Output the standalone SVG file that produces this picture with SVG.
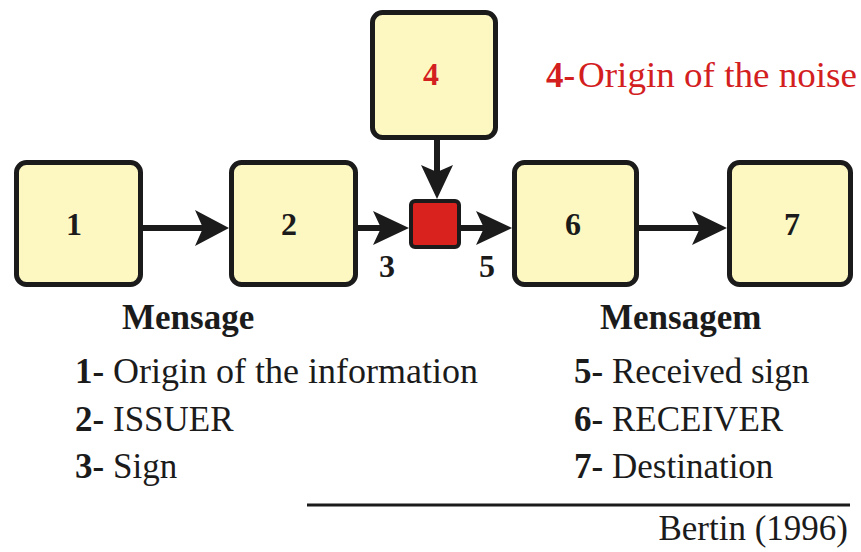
<svg xmlns="http://www.w3.org/2000/svg" width="861" height="552" viewBox="0 0 861 552">
  <style>
    .box { fill: #fdf8c2; stroke: #1b1b1b; stroke-width: 5; }
    .noise { fill: #d9211e; stroke: #1b1b1b; stroke-width: 4; }
    .wire { stroke: #1b1b1b; stroke-width: 6; fill: none; }
    .head { fill: #1b1b1b; }
    text { font-family: "Liberation Serif", Tinos, "Times New Roman", Times, "DejaVu Serif", serif; fill: #1b1b1b; }
    .num { font-weight: bold; font-size: 32px; text-anchor: middle; }
    .txt { font-size: 35px; }
    .b { font-weight: bold; }
    text.red { fill: #d3201f; }
  </style>

  <!-- connectors -->
  <g id="connectors">
    <line class="wire" x1="143" y1="228" x2="205" y2="228"/>
    <path class="head" d="M229,228 L195,210 L203,228 L195,246 Z"/>
    <line class="wire" x1="358" y1="228" x2="382" y2="228"/>
    <path class="head" d="M409,228 L373,211 L381,228 L373,245 Z"/>
    <line class="wire" x1="461" y1="228" x2="485" y2="228"/>
    <path class="head" d="M512,228 L476,211 L484,228 L476,245 Z"/>
    <line class="wire" x1="639" y1="228" x2="700" y2="228"/>
    <path class="head" d="M727,228 L692,211 L700,228 L692,245 Z"/>
    <line class="wire" x1="437" y1="140" x2="437" y2="172"/>
    <path class="head" d="M437,199 L421,165 L437,172 L453,165 Z"/>
  </g>

  <!-- nodes -->
  <g id="node1">
    <rect class="box" x="16.5" y="162.5" width="124" height="122" rx="10"/>
    <text class="num" x="74" y="235">1</text>
  </g>
  <g id="node2">
    <rect class="box" x="231.5" y="162.5" width="124" height="122" rx="10"/>
    <text class="num" x="289" y="235">2</text>
  </g>
  <g id="node4">
    <rect class="box" x="372.5" y="12.5" width="123" height="125" rx="10"/>
    <text class="num red" x="431" y="85">4</text>
  </g>
  <g id="noise">
    <rect class="noise" x="411" y="201" width="48" height="46" rx="4"/>
  </g>
  <g id="node6">
    <rect class="box" x="514.5" y="162.5" width="122" height="122" rx="10"/>
    <text class="num" x="573" y="235">6</text>
  </g>
  <g id="node7">
    <rect class="box" x="729.5" y="162.5" width="121" height="122" rx="10"/>
    <text class="num" x="792" y="235">7</text>
  </g>

  <!-- signal labels -->
  <text class="num" x="387" y="277">3</text>
  <text class="num" x="487" y="277">5</text>

  <!-- noise caption -->
  <text class="txt red" y="87"><tspan class="b" x="546">4-</tspan><tspan x="578" textLength="279" lengthAdjust="spacingAndGlyphs">Origin of the noise</tspan></text>

  <!-- legend: sender side -->
  <text class="txt b" x="122" y="329">Mensage</text>
  <text class="txt" y="383"><tspan class="b" x="75">1-</tspan><tspan x="113" textLength="365" lengthAdjust="spacingAndGlyphs">Origin of the information</tspan></text>
  <text class="txt" y="431"><tspan class="b" x="75">2-</tspan><tspan x="113">ISSUER</tspan></text>
  <text class="txt" y="478"><tspan class="b" x="75">3-</tspan><tspan x="113">Sign</tspan></text>

  <!-- legend: receiver side -->
  <text class="txt b" x="600" y="329">Mensagem</text>
  <text class="txt" y="383"><tspan class="b" x="574">5-</tspan><tspan x="612">Received sign</tspan></text>
  <text class="txt" y="431"><tspan class="b" x="574">6-</tspan><tspan x="612">RECEIVER</tspan></text>
  <text class="txt" y="478"><tspan class="b" x="574">7-</tspan><tspan x="612">Destination</tspan></text>

  <!-- source -->
  <line x1="307" y1="505" x2="850" y2="505" stroke="#1b1b1b" stroke-width="3"/>
  <text class="txt" x="848" y="540" text-anchor="end">Bertin (1996)</text>
</svg>
